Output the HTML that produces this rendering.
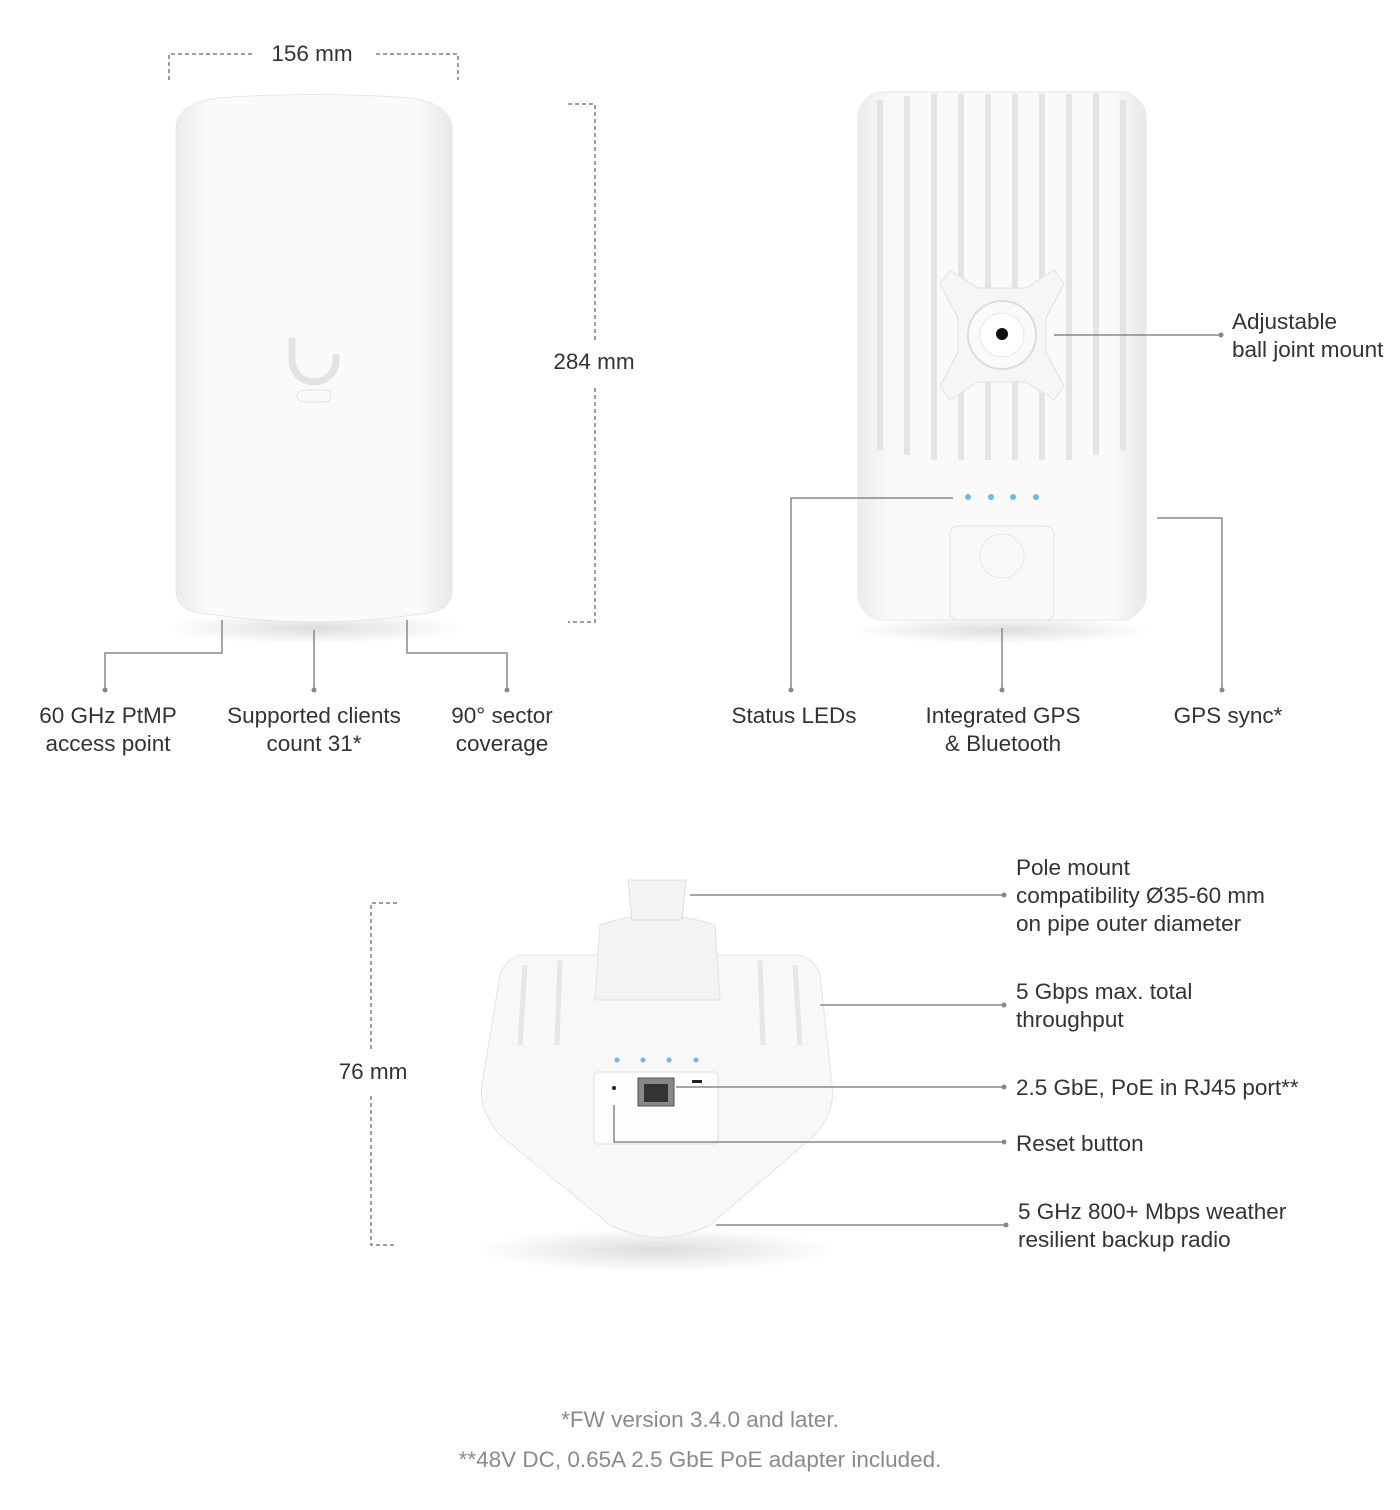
<!DOCTYPE html>
<html><head><meta charset="utf-8"><style>
html,body{margin:0;padding:0;background:#fff}
body{width:1400px;height:1510px;position:relative;overflow:hidden;font-family:"Liberation Sans",sans-serif;color:#333}
.t{position:absolute;font-size:22.5px;line-height:28px;white-space:nowrap}
.c{transform:translateX(-50%);text-align:center}
.f{color:#8a8a8a;font-size:22.5px}
</style></head><body>
<svg width="1400" height="1510" style="position:absolute;left:0;top:0">
<defs>
<linearGradient id="g1" x1="0" x2="1"><stop offset="0" stop-color="#ececec"/><stop offset=".12" stop-color="#fafafa"/><stop offset=".88" stop-color="#fafafa"/><stop offset="1" stop-color="#e8e8e8"/></linearGradient>
<radialGradient id="sh"><stop offset="0" stop-color="#ddd"/><stop offset="1" stop-color="#fff"/></radialGradient>
</defs>
<ellipse cx="314" cy="628" rx="150" ry="16" fill="url(#sh)"/>
<path d="M176 130 Q176 100 230 97 Q314 92 398 97 Q452 100 452 130 L452 590 Q452 612 420 614 Q314 630 208 614 Q176 612 176 590 Z" fill="url(#g1)" stroke="#e6e6e6"/>
<path d="M292 338 v22 a22 22 0 0 0 44 0 v-6" fill="none" stroke="#e3e3e3" stroke-width="7"/>
<rect x="297" y="390" width="34" height="12" rx="6" fill="none" stroke="#e3e3e3"/>
<g stroke="#666" stroke-width="1.3" fill="none" stroke-dasharray="4 3">
<path d="M169 80 V54 H252"/><path d="M376 54 H458 V80"/>
<path d="M568 104 H595 V340"/><path d="M595 388 V622 H568"/>
<path d="M397 903 H371 V1052"/><path d="M371 1096 V1245 H397"/>
</g>
<ellipse cx="1002" cy="630" rx="150" ry="14" fill="url(#sh)"/>
<rect x="858" y="92" width="288" height="528" rx="26" fill="url(#g1)" stroke="#e6e6e6"/>
<g stroke="#e4e4e4" stroke-width="6">
<line x1="880" y1="100" x2="880" y2="450"/><line x1="907" y1="96" x2="907" y2="455"/><line x1="934" y1="94" x2="934" y2="460"/><line x1="961" y1="94" x2="961" y2="460"/><line x1="988" y1="94" x2="988" y2="460"/><line x1="1015" y1="94" x2="1015" y2="460"/><line x1="1042" y1="94" x2="1042" y2="460"/><line x1="1069" y1="94" x2="1069" y2="460"/><line x1="1096" y1="94" x2="1096" y2="455"/><line x1="1123" y1="100" x2="1123" y2="450"/>
</g>
<path d="M950 270 L978 288 L1026 288 L1054 270 L1064 284 L1046 318 L1046 352 L1064 386 L1054 400 L1026 382 L978 382 L950 400 L940 386 L958 352 L958 318 L940 284 Z" fill="#f6f6f6" stroke="#e0e0e0"/>
<circle cx="1002" cy="335" r="34" fill="#fafafa" stroke="#ddd" stroke-width="2"/>
<circle cx="1002" cy="335" r="22" fill="#fff" stroke="#e6e6e6"/>
<circle cx="1002" cy="334" r="6" fill="#111"/>
<g fill="#6ab8f0"><circle cx="968" cy="497" r="3"/><circle cx="991" cy="497" r="3"/><circle cx="1013" cy="497" r="3"/><circle cx="1036" cy="497" r="3"/></g>
<rect x="950" y="526" width="104" height="94" rx="8" fill="#f8f8f8" stroke="#e2e2e2"/>
<circle cx="1002" cy="556" r="22" fill="none" stroke="#e6e6e6"/>
<ellipse cx="656" cy="1250" rx="180" ry="22" fill="url(#sh)"/>
<path d="M520 955 L800 955 Q815 960 820 975 L832 1085 Q836 1110 815 1135 L710 1225 Q660 1250 610 1225 L500 1135 Q478 1110 482 1085 L500 975 Q505 960 520 955 Z" fill="#f8f8f8" stroke="#e4e4e4"/>
<g stroke="#e6e6e6" stroke-width="5"><line x1="525" y1="965" x2="520" y2="1045"/><line x1="560" y1="960" x2="557" y2="1045"/><line x1="760" y1="960" x2="763" y2="1045"/><line x1="795" y1="965" x2="800" y2="1045"/></g>
<path d="M600 925 Q655 905 715 925 L720 1000 L595 1000 Z" fill="#f3f3f3" stroke="#e2e2e2"/>
<path d="M628 880 L686 880 L682 920 L632 920 Z" fill="#f4f4f4" stroke="#ddd"/>
<g fill="#6ab8f0"><circle cx="617" cy="1060" r="2.5"/><circle cx="643" cy="1060" r="2.5"/><circle cx="669" cy="1060" r="2.5"/><circle cx="696" cy="1060" r="2.5"/></g>
<rect x="594" y="1072" width="124" height="72" rx="4" fill="#fdfdfd" stroke="#ddd"/>
<rect x="638" y="1078" width="36" height="28" fill="#888" stroke="#555"/><rect x="644" y="1084" width="24" height="18" fill="#333"/>
<circle cx="614" cy="1088" r="2" fill="#222"/><rect x="692" y="1080" width="10" height="3" fill="#222"/>
<g stroke="#888" stroke-width="1.5" fill="none">
<path d="M222 620 V653 H105 V690"/><path d="M314 630 V690"/><path d="M407 620 V653 H507 V690"/>
<path d="M1054 335 H1221"/><path d="M953 498 H791 V690"/><path d="M1002 628 V690"/><path d="M1157 518 H1222 V690"/>
<path d="M690 895 H1004"/><path d="M820 1005 H1004"/><path d="M676 1087 H1004"/><path d="M614 1105 V1142 H1004"/><path d="M716 1225 H1006"/>
</g>
<g fill="#888"><circle cx="105" cy="690" r="2.5"/><circle cx="314" cy="690" r="2.5"/><circle cx="507" cy="690" r="2.5"/><circle cx="1221" cy="335" r="2.5"/><circle cx="791" cy="690" r="2.5"/><circle cx="1002" cy="690" r="2.5"/><circle cx="1222" cy="690" r="2.5"/><circle cx="1004" cy="895" r="2.5"/><circle cx="1004" cy="1005" r="2.5"/><circle cx="1004" cy="1087" r="2.5"/><circle cx="1004" cy="1142" r="2.5"/><circle cx="1006" cy="1225" r="2.5"/></g>
</svg>
<div class="t c" style="left:312px;top:40px">156 mm</div>
<div class="t c" style="left:594px;top:348px">284 mm</div>
<div class="t c" style="left:373px;top:1058px">76 mm</div>
<div class="t c" style="left:108px;top:702px">60 GHz PtMP<br>access point</div>
<div class="t c" style="left:314px;top:702px">Supported clients<br>count 31*</div>
<div class="t c" style="left:502px;top:702px">90° sector<br>coverage</div>
<div class="t" style="left:1232px;top:308px">Adjustable<br>ball joint mount</div>
<div class="t c" style="left:794px;top:702px">Status LEDs</div>
<div class="t c" style="left:1003px;top:702px">Integrated GPS<br>&amp; Bluetooth</div>
<div class="t c" style="left:1228px;top:702px">GPS sync*</div>
<div class="t" style="left:1016px;top:854px">Pole mount<br>compatibility Ø35-60 mm<br>on pipe outer diameter</div>
<div class="t" style="left:1016px;top:978px">5 Gbps max. total<br>throughput</div>
<div class="t" style="left:1016px;top:1074px">2.5 GbE, PoE in RJ45 port**</div>
<div class="t" style="left:1016px;top:1130px">Reset button</div>
<div class="t" style="left:1018px;top:1198px">5 GHz 800+ Mbps weather<br>resilient backup radio</div>
<div class="t c f" style="left:700px;top:1406px">*FW version 3.4.0 and later.</div>
<div class="t c f" style="left:700px;top:1446px">**48V DC, 0.65A 2.5 GbE PoE adapter included.</div>
</body></html>
